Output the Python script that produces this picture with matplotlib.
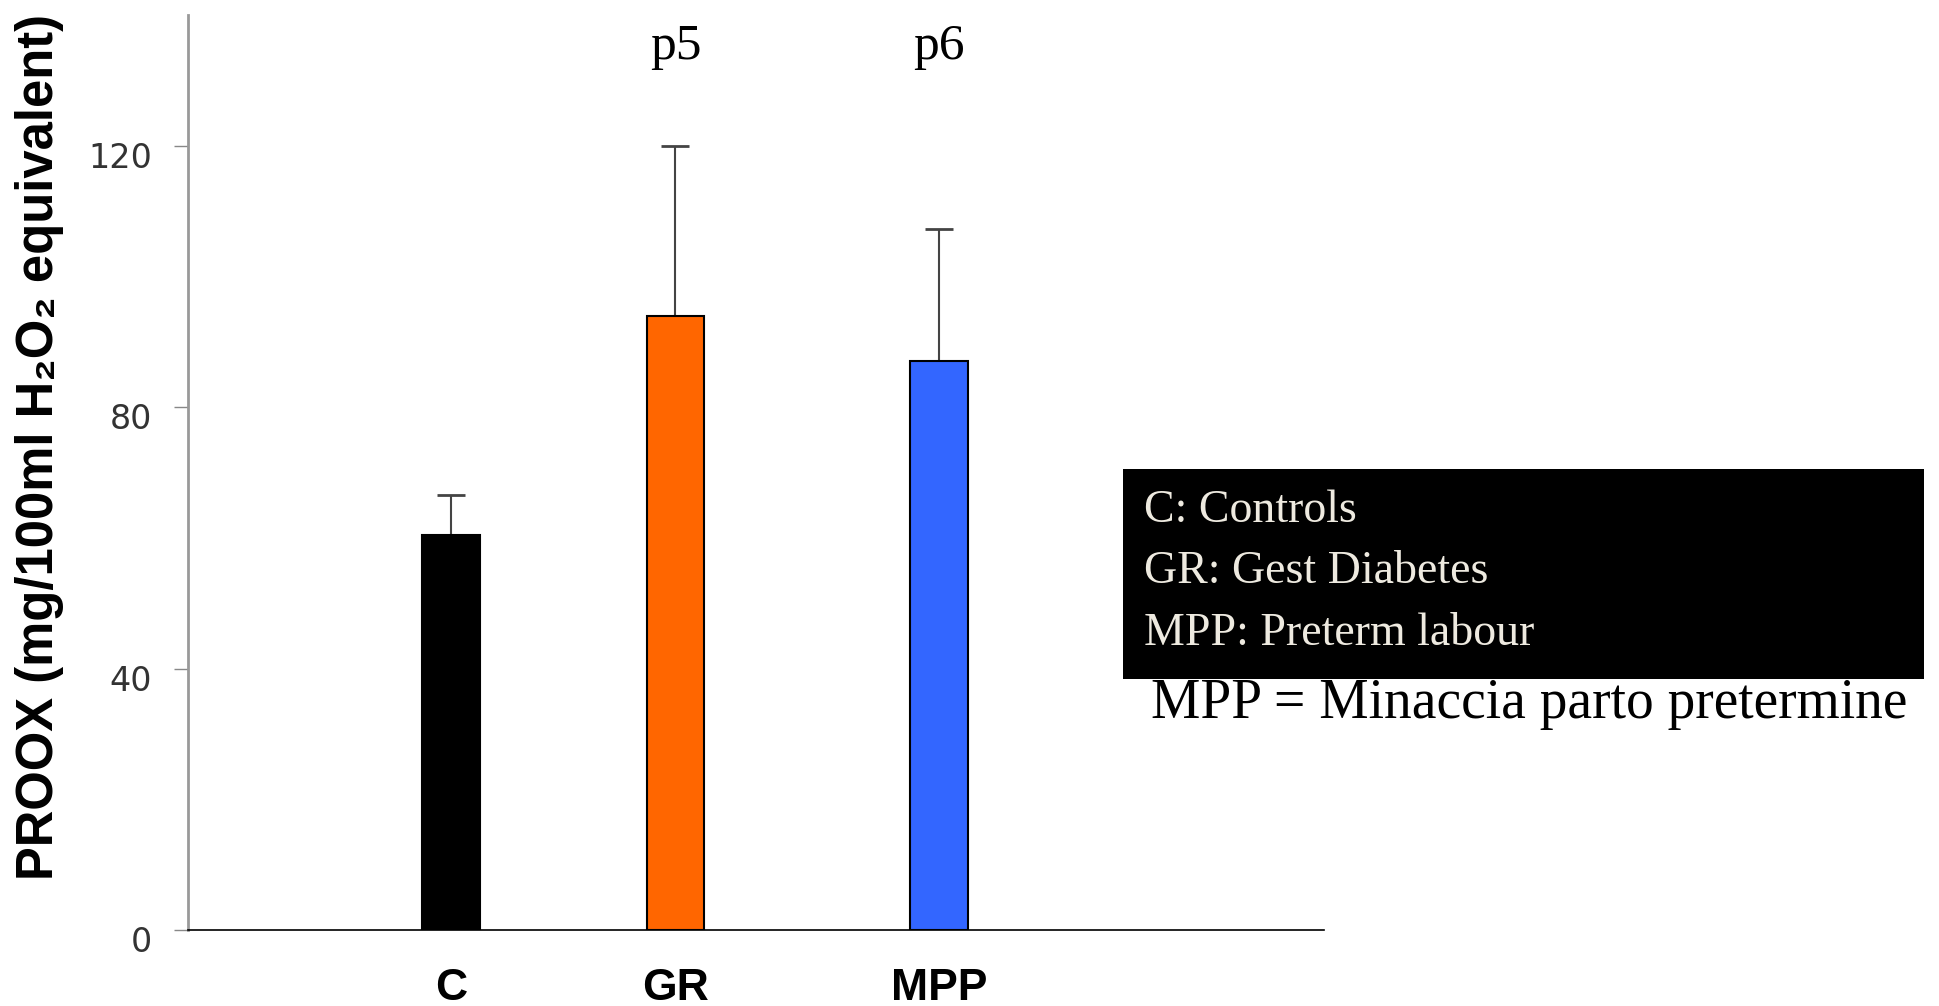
import matplotlib
matplotlib.use('Agg')
import matplotlib.pyplot as plt
from matplotlib.patches import Rectangle
from matplotlib.transforms import ScaledTranslation

# data
groups = ['C', 'GR', 'MPP']
proox = [60.5, 94.0, 87.0]
proox_err = [6.0, 26.0, 20.3]
sig_labels = ['', 'p5', 'p6']
bar_colors = ['#000000', '#ff6600', '#3366ff']
legend_lines = ['C: Controls', 'GR: Gest Diabetes', 'MPP: Preterm labour']
note = 'MPP = Minaccia parto pretermine'

# bars are not evenly spaced in the original
bar_pos = [0, 0.92, 2]

fig = plt.figure(figsize=(19.4, 10.06), dpi=100)
ax = fig.add_axes([0.0969, 0.0755, 0.5856, 0.9095])

ax.bar(bar_pos, proox, width=0.235, color=bar_colors, edgecolor='black', linewidth=1.5, zorder=2)
ax.errorbar(bar_pos, proox, yerr=[[0]*len(proox), proox_err], fmt='none',
            ecolor='#444444', elinewidth=1.5, capsize=10, capthick=2, zorder=1)

ax.set_xlim(-1.078, 3.578)
ax.set_ylim(0, 140)
ax.set_yticks([0, 40, 80, 120])
ax.set_xticks(bar_pos)
ax.set_xticklabels(groups, fontsize=32, fontweight='bold', family='Liberation Sans')
ax.tick_params(axis='x', length=0, pad=27)
ax.tick_params(axis='y', length=10, width=1, color='#888888', pad=16,
               labelsize=24, labelcolor='#333333')
# y labels sit a little below their ticks
for lab in ax.get_yticklabels():
    lab.set_transform(lab.get_transform() + ScaledTranslation(0, -0.09, fig.dpi_scale_trans))

for s in ['top', 'right']:
    ax.spines[s].set_visible(False)
ax.spines['left'].set_color('#999999')
ax.spines['left'].set_linewidth(2)
ax.spines['bottom'].set_color('black')
ax.spines['bottom'].set_linewidth(1.2)

# p labels above the bars
for xi, lab in zip(bar_pos, sig_labels):
    if lab:
        ax.text(xi, 1 - (59 - 15) / 915, lab, transform=ax.get_xaxis_transform(),
                ha='center', va='baseline', fontsize=37, family='Liberation Serif')

fig.text(40 / 1940, 1 - 447 / 1006, 'PROOX (mg/100ml H₂O₂ equivalent)', rotation=90,
         ha='center', va='center', fontsize=36.5, fontweight='bold',
         family=['Liberation Sans', 'DejaVu Sans'])

# legend box
fig.patches.append(Rectangle((1123 / 1940, 1 - 679 / 1006), 801 / 1940, 210 / 1006,
                             transform=fig.transFigure, facecolor='black', edgecolor='none'))
for yb, line in zip([522, 583, 645], legend_lines):
    fig.text(1144 / 1940, 1 - yb / 1006, line, ha='left', va='baseline',
             fontsize=33, color='#eeeae0', family='Liberation Serif')
fig.text(1151 / 1940, 1 - 718 / 1006, note, ha='left', va='baseline',
         fontsize=40, color='black', family='Liberation Serif')

fig.savefig('out.png', dpi=100)
